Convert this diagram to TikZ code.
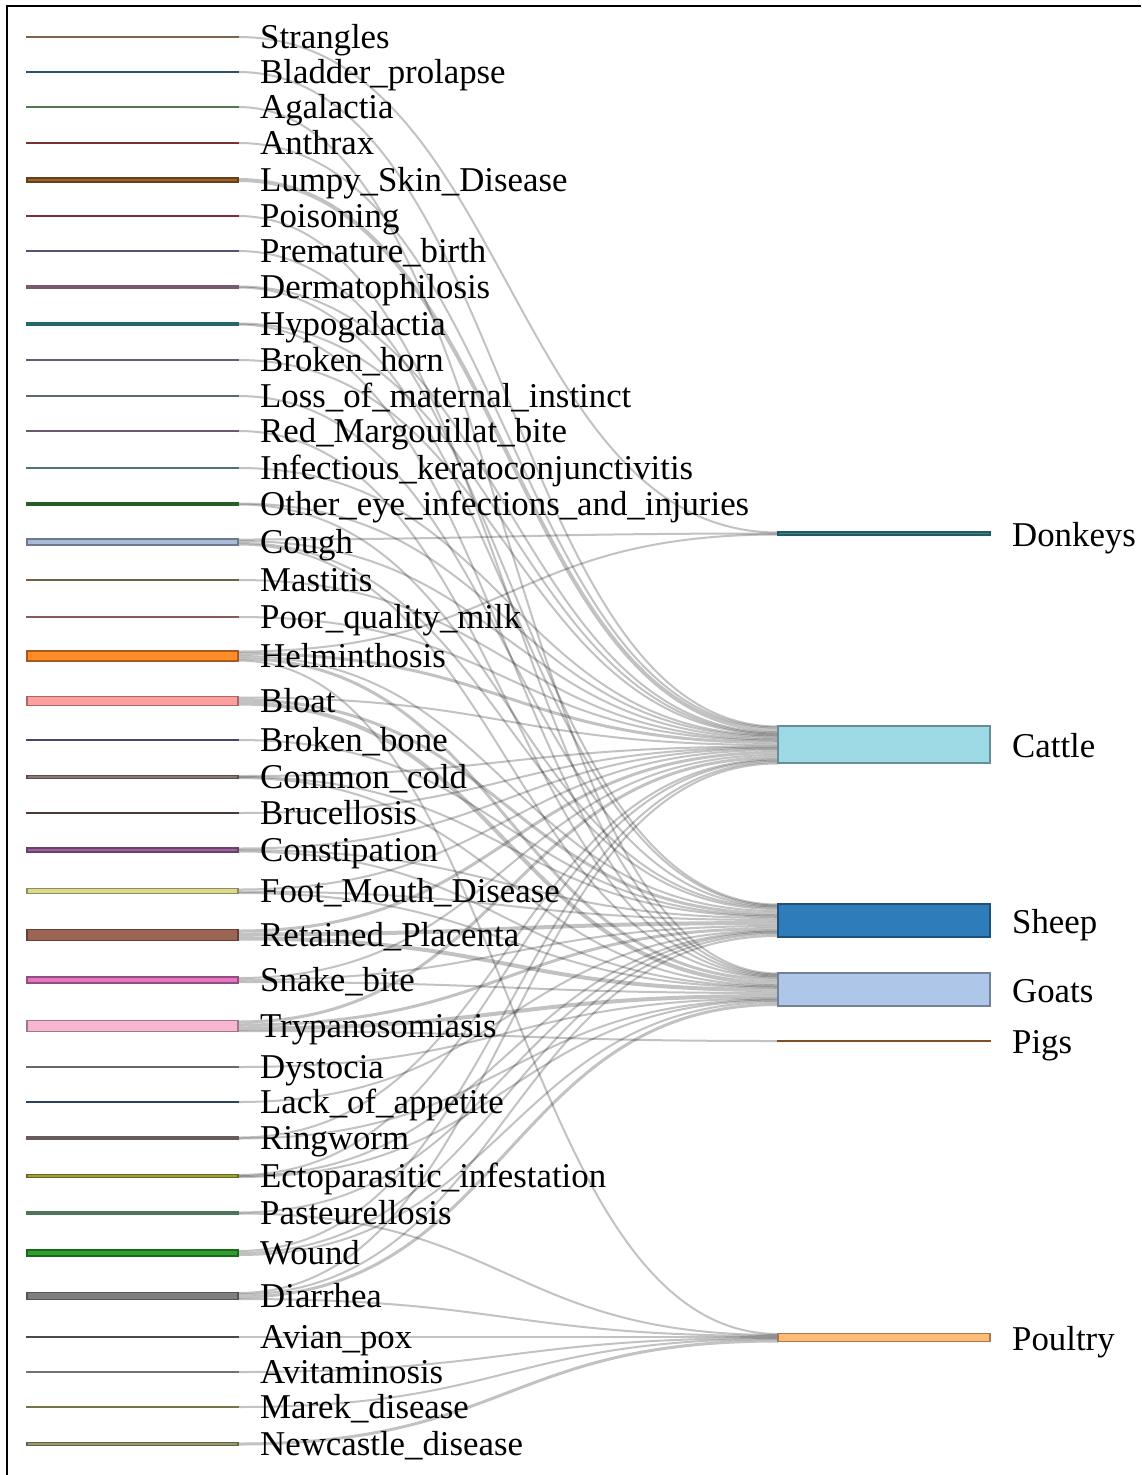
\documentclass[tikz,border=0pt]{standalone}
\usepackage{fontspec}
\setmainfont{Liberation Serif}
\usepackage{tikz}
\usepackage{xcolor}
\usetikzlibrary{positioning}

\pgfdeclarelayer{bg}
\pgfsetlayers{bg,main}

% node colours
\definecolor{cStra}{HTML}{BF9B70}
\definecolor{cBlad}{HTML}{3F7FA8}
\definecolor{cAgal}{HTML}{78B878}
\definecolor{cAnth}{HTML}{B84C4C}
\definecolor{cLump}{HTML}{9C6428}
\definecolor{cPois}{HTML}{B84A5A}
\definecolor{cPrem}{HTML}{8C78B4}
\definecolor{cDerm}{HTML}{B48CA8}
\definecolor{cHypo}{HTML}{35A0A0}
\definecolor{cHorn}{HTML}{A08CB4}
\definecolor{cLoss}{HTML}{8CA0B4}
\definecolor{cMarg}{HTML}{A08CA8}
\definecolor{cKera}{HTML}{78B4B4}
\definecolor{cEye}{HTML}{3C913C}
\definecolor{cCoug}{HTML}{A8BCD8}
\definecolor{cMast}{HTML}{B4946A}
\definecolor{cMilk}{HTML}{D08C8C}
\definecolor{cHelm}{HTML}{FF8C28}
\definecolor{cBloa}{HTML}{FF9E9E}
\definecolor{cBone}{HTML}{7862A0}
\definecolor{cCold}{HTML}{8C7872}
\definecolor{cBruc}{HTML}{785454}
\definecolor{cCons}{HTML}{A062A0}
\definecolor{cFmd}{HTML}{DBDB8D}
\definecolor{cPlac}{HTML}{9C6452}
\definecolor{cSnak}{HTML}{E377C2}
\definecolor{cTryp}{HTML}{F7B6D2}
\definecolor{cDyst}{HTML}{A0A0A0}
\definecolor{cAppe}{HTML}{3E6892}
\definecolor{cRing}{HTML}{A08C8C}
\definecolor{cEcto}{HTML}{A0A038}
\definecolor{cPast}{HTML}{78B48C}
\definecolor{cWoun}{HTML}{2CA02C}
\definecolor{cDiar}{HTML}{7F7F7F}
\definecolor{cPox}{HTML}{707070}
\definecolor{cVit}{HTML}{B0B0B0}
\definecolor{cMare}{HTML}{B4B46A}
\definecolor{cNewc}{HTML}{9A9A70}
\definecolor{cDonk}{HTML}{378A92}
\definecolor{cCatt}{HTML}{9EDAE5}
\definecolor{cShee}{HTML}{2E7DBA}
\definecolor{cGoat}{HTML}{AEC7E8}
\definecolor{cPigs}{HTML}{C87A36}
\definecolor{cPoul}{HTML}{FFBB78}

\tikzset{
  bar/.style={rectangle, inner sep=0pt, outer sep=0pt, line width=1.8pt,
    minimum width=211pt, fill=#1, draw=#1!65!black},
  herd/.style={bar=#1, minimum width=212pt},
  lbl/.style={anchor=base west, inner sep=0pt, font=\fontsize{34.8}{40}\selectfont},
  link/.style={draw=black, draw opacity=0.24},
}

% link from #1 (offset #2) to #3 (offset #4), value #5
\newcommand\flow[5]{%
  \pgfmathsetmacro\flowlw{max(#5,2)}%
  \draw[link, line width=\flowlw pt] ([yshift=-#2pt-#5pt/2]#1.north east)
    .. controls +(270,0) and +(-270,0) .. ([yshift=-#4pt-#5pt/2]#3.north west);}

\begin{document}
\begin{tikzpicture}[x=1pt,y=-1pt]
\begin{pgfonlayer}{bg}
\fill[white] (0,0) rectangle (1141,1475);
\end{pgfonlayer}
\useasboundingbox (0,0) rectangle (1141,1475);
\draw[line width=2pt] (7,1475) -- (7,6) -- (1141,6);

% diseases
\node[bar=cStra, minimum height=1pt] (strangles) at (132.5,37) {};
\node[lbl] (strangles-l) at ([xshift=22pt,yshift=-11.5pt]strangles.east) {Strangles};
\node[bar=cBlad, minimum height=1pt] (bladder) at (132.5,72) {};
\node[lbl] (bladder-l) at ([xshift=22pt,yshift=-11.5pt]bladder.east) {Bladder\_prolapse};
\node[bar=cAgal, minimum height=1pt] (agalactia) at (132.5,107) {};
\node[lbl] (agalactia-l) at ([xshift=22pt,yshift=-11.5pt]agalactia.east) {Agalactia};
\node[bar=cAnth, minimum height=1pt] (anthrax) at (132.5,143) {};
\node[lbl] (anthrax-l) at ([xshift=22pt,yshift=-11.5pt]anthrax.east) {Anthrax};
\node[bar=cLump, minimum height=4pt] (lumpy) at (132.5,180) {};
\node[lbl] (lumpy-l) at ([xshift=22pt,yshift=-11.5pt]lumpy.east) {Lumpy\_Skin\_Disease};
\node[bar=cPois, minimum height=1pt] (poisoning) at (132.5,216) {};
\node[lbl] (poisoning-l) at ([xshift=22pt,yshift=-11.5pt]poisoning.east) {Poisoning};
\node[bar=cPrem, minimum height=1pt] (premature) at (132.5,251) {};
\node[lbl] (premature-l) at ([xshift=22pt,yshift=-11.5pt]premature.east) {Premature\_birth};
\node[bar=cDerm, minimum height=2pt] (dermato) at (132.5,287) {};
\node[lbl] (dermato-l) at ([xshift=22pt,yshift=-11.5pt]dermato.east) {Dermatophilosis};
\node[bar=cHypo, minimum height=2pt] (hypo) at (132.5,324) {};
\node[lbl] (hypo-l) at ([xshift=22pt,yshift=-11.5pt]hypo.east) {Hypogalactia};
\node[bar=cHorn, minimum height=1pt] (brokenhorn) at (132.5,360) {};
\node[lbl] (brokenhorn-l) at ([xshift=22pt,yshift=-11.5pt]brokenhorn.east) {Broken\_horn};
\node[bar=cLoss, minimum height=1pt] (loss) at (132.5,396) {};
\node[lbl] (loss-l) at ([xshift=22pt,yshift=-11.5pt]loss.east) {Loss\_of\_maternal\_instinct};
\node[bar=cMarg, minimum height=1pt] (redmarg) at (132.5,431) {};
\node[lbl] (redmarg-l) at ([xshift=22pt,yshift=-11.5pt]redmarg.east) {Red\_Margouillat\_bite};
\node[bar=cKera, minimum height=1pt] (kerato) at (132.5,468) {};
\node[lbl] (kerato-l) at ([xshift=22pt,yshift=-11.5pt]kerato.east) {Infectious\_keratoconjunctivitis};
\node[bar=cEye, minimum height=2pt] (othereye) at (132.5,504) {};
\node[lbl] (othereye-l) at ([xshift=22pt,yshift=-11.5pt]othereye.east) {Other\_eye\_infections\_and\_injuries};
\node[bar=cCoug, minimum height=6pt] (cough) at (132.5,542) {};
\node[lbl] (cough-l) at ([xshift=22pt,yshift=-11.5pt]cough.east) {Cough};
\node[bar=cMast, minimum height=1pt] (mastitis) at (132.5,580) {};
\node[lbl] (mastitis-l) at ([xshift=22pt,yshift=-11.5pt]mastitis.east) {Mastitis};
\node[bar=cMilk, minimum height=1pt] (poormilk) at (132.5,617) {};
\node[lbl] (poormilk-l) at ([xshift=22pt,yshift=-11.5pt]poormilk.east) {Poor\_quality\_milk};
\node[bar=cHelm, minimum height=10pt] (helminth) at (132.5,656) {};
\node[lbl] (helminth-l) at ([xshift=22pt,yshift=-11.5pt]helminth.east) {Helminthosis};
\node[bar=cBloa, minimum height=9pt] (bloat) at (132.5,701) {};
\node[lbl] (bloat-l) at ([xshift=22pt,yshift=-11.5pt]bloat.east) {Bloat};
\node[bar=cBone, minimum height=1pt] (brokenbone) at (132.5,740) {};
\node[lbl] (brokenbone-l) at ([xshift=22pt,yshift=-11.5pt]brokenbone.east) {Broken\_bone};
\node[bar=cCold, minimum height=3pt] (cold) at (132.5,777) {};
\node[lbl] (cold-l) at ([xshift=22pt,yshift=-11.5pt]cold.east) {Common\_cold};
\node[bar=cBruc, minimum height=1pt] (brucella) at (132.5,813) {};
\node[lbl] (brucella-l) at ([xshift=22pt,yshift=-11.5pt]brucella.east) {Brucellosis};
\node[bar=cCons, minimum height=4pt] (constip) at (132.5,850) {};
\node[lbl] (constip-l) at ([xshift=22pt,yshift=-11.5pt]constip.east) {Constipation};
\node[bar=cFmd, minimum height=5pt] (fmd) at (132.5,891) {};
\node[lbl] (fmd-l) at ([xshift=22pt,yshift=-11.5pt]fmd.east) {Foot\_Mouth\_Disease};
\node[bar=cPlac, minimum height=11pt] (placenta) at (132.5,935) {};
\node[lbl] (placenta-l) at ([xshift=22pt,yshift=-11.5pt]placenta.east) {Retained\_Placenta};
\node[bar=cSnak, minimum height=6pt] (snake) at (132.5,980) {};
\node[lbl] (snake-l) at ([xshift=22pt,yshift=-11.5pt]snake.east) {Snake\_bite};
\node[bar=cTryp, minimum height=11pt] (trypano) at (132.5,1026) {};
\node[lbl] (trypano-l) at ([xshift=22pt,yshift=-11.5pt]trypano.east) {Trypanosomiasis};
\node[bar=cDyst, minimum height=1pt] (dystocia) at (132.5,1067) {};
\node[lbl] (dystocia-l) at ([xshift=22pt,yshift=-11.5pt]dystocia.east) {Dystocia};
\node[bar=cAppe, minimum height=1pt] (appetite) at (132.5,1102) {};
\node[lbl] (appetite-l) at ([xshift=22pt,yshift=-11.5pt]appetite.east) {Lack\_of\_appetite};
\node[bar=cRing, minimum height=2pt] (ringworm) at (132.5,1138) {};
\node[lbl] (ringworm-l) at ([xshift=22pt,yshift=-11.5pt]ringworm.east) {Ringworm};
\node[bar=cEcto, minimum height=3pt] (ecto) at (132.5,1176) {};
\node[lbl] (ecto-l) at ([xshift=22pt,yshift=-11.5pt]ecto.east) {Ectoparasitic\_infestation};
\node[bar=cPast, minimum height=2pt] (pasteur) at (132.5,1213) {};
\node[lbl] (pasteur-l) at ([xshift=22pt,yshift=-11.5pt]pasteur.east) {Pasteurellosis};
\node[bar=cWoun, minimum height=6pt] (wound) at (132.5,1253) {};
\node[lbl] (wound-l) at ([xshift=22pt,yshift=-11.5pt]wound.east) {Wound};
\node[bar=cDiar, minimum height=7pt] (diarrhea) at (132.5,1296) {};
\node[lbl] (diarrhea-l) at ([xshift=22pt,yshift=-11.5pt]diarrhea.east) {Diarrhea};
\node[bar=cPox, minimum height=1pt] (avianpox) at (132.5,1337) {};
\node[lbl] (avianpox-l) at ([xshift=22pt,yshift=-11.5pt]avianpox.east) {Avian\_pox};
\node[bar=cVit, minimum height=1pt] (avitamin) at (132.5,1372) {};
\node[lbl] (avitamin-l) at ([xshift=22pt,yshift=-11.5pt]avitamin.east) {Avitaminosis};
\node[bar=cMare, minimum height=1pt] (marek) at (132.5,1407) {};
\node[lbl] (marek-l) at ([xshift=22pt,yshift=-11.5pt]marek.east) {Marek\_disease};
\node[bar=cNewc, minimum height=3pt] (newcastle) at (132.5,1444) {};
\node[lbl] (newcastle-l) at ([xshift=22pt,yshift=-11.5pt]newcastle.east) {Newcastle\_disease};

% animals
\node[herd=cDonk, minimum height=3pt] (donkeys) at (884,533.5) {};
\node[lbl] (donkeys-l) at ([xshift=22pt,yshift=-12.5pt]donkeys.east) {Donkeys};
\node[herd=cCatt, minimum height=37pt] (cattle) at (884,744.5) {};
\node[lbl] (cattle-l) at ([xshift=22pt,yshift=-12.5pt]cattle.east) {Cattle};
\node[herd=cShee, minimum height=33pt] (sheep) at (884,920.5) {};
\node[lbl] (sheep-l) at ([xshift=22pt,yshift=-12.5pt]sheep.east) {Sheep};
\node[herd=cGoat, minimum height=33pt] (goats) at (884,989.5) {};
\node[lbl] (goats-l) at ([xshift=22pt,yshift=-12.5pt]goats.east) {Goats};
\node[herd=cPigs, minimum height=1pt] (pigs) at (884,1041) {};
\node[lbl] (pigs-l) at ([xshift=22pt,yshift=-12.5pt]pigs.east) {Pigs};
\node[herd=cPoul, minimum height=8pt] (poultry) at (884,1337.5) {};
\node[lbl] (poultry-l) at ([xshift=22pt,yshift=-12.5pt]poultry.east) {Poultry};

\begin{pgfonlayer}{bg}
\flow{strangles}{0}{donkeys}{0}{1}
\flow{cough}{0}{donkeys}{1}{1}
\flow{helminth}{0}{donkeys}{2}{1}
% cattle
\flow{bladder}{0}{cattle}{0}{1}
\flow{anthrax}{0}{cattle}{1}{1}
\flow{lumpy}{0}{cattle}{2}{4}
\flow{dermato}{0}{cattle}{6}{1}
\flow{hypo}{0}{cattle}{7}{1}
\flow{brokenhorn}{0}{cattle}{8}{1}
\flow{kerato}{0}{cattle}{9}{1}
\flow{othereye}{0}{cattle}{10}{1}
\flow{cough}{1}{cattle}{11}{2}
\flow{mastitis}{0}{cattle}{13}{1}
\flow{poormilk}{0}{cattle}{14}{1}
\flow{helminth}{1}{cattle}{15}{3}
\flow{bloat}{0}{cattle}{18}{2}
\flow{cold}{0}{cattle}{20}{1}
\flow{brucella}{0}{cattle}{21}{1}
\flow{constip}{0}{cattle}{22}{1}
\flow{fmd}{0}{cattle}{23}{2}
\flow{placenta}{0}{cattle}{25}{3}
\flow{snake}{0}{cattle}{28}{2}
\flow{trypano}{0}{cattle}{30}{3}
\flow{ringworm}{0}{cattle}{33}{1}
\flow{ecto}{0}{cattle}{34}{1}
\flow{wound}{0}{cattle}{35}{2}
\flow{diarrhea}{0}{cattle}{37}{1}
% sheep
\flow{premature}{0}{sheep}{0}{1}
\flow{dermato}{1}{sheep}{1}{1}
\flow{loss}{0}{sheep}{2}{1}
\flow{othereye}{1}{sheep}{3}{1}
\flow{cough}{3}{sheep}{4}{2}
\flow{helminth}{4}{sheep}{6}{2}
\flow{bloat}{2}{sheep}{8}{3}
\flow{brokenbone}{0}{sheep}{11}{1}
\flow{cold}{1}{sheep}{12}{1}
\flow{constip}{1}{sheep}{13}{2}
\flow{fmd}{2}{sheep}{15}{2}
\flow{placenta}{3}{sheep}{17}{4}
\flow{snake}{2}{sheep}{21}{2}
\flow{trypano}{3}{sheep}{23}{3}
\flow{appetite}{0}{sheep}{26}{1}
\flow{ecto}{1}{sheep}{27}{1}
\flow{pasteur}{0}{sheep}{28}{1}
\flow{wound}{2}{sheep}{29}{2}
\flow{diarrhea}{1}{sheep}{31}{2}
% goats
\flow{agalactia}{0}{goats}{0}{1}
\flow{poisoning}{0}{goats}{1}{1}
\flow{hypo}{1}{goats}{2}{1}
\flow{redmarg}{0}{goats}{3}{1}
\flow{cough}{5}{goats}{4}{1}
\flow{helminth}{6}{goats}{5}{3}
\flow{bloat}{5}{goats}{8}{4}
\flow{cold}{2}{goats}{12}{1}
\flow{constip}{3}{goats}{13}{1}
\flow{fmd}{4}{goats}{14}{1}
\flow{placenta}{7}{goats}{15}{4}
\flow{snake}{4}{goats}{19}{2}
\flow{trypano}{6}{goats}{21}{4}
\flow{dystocia}{0}{goats}{25}{1}
\flow{ringworm}{1}{goats}{26}{1}
\flow{ecto}{2}{goats}{27}{1}
\flow{wound}{4}{goats}{28}{2}
\flow{diarrhea}{3}{goats}{30}{3}
% pigs and poultry
\flow{trypano}{10}{pigs}{0}{1}
\flow{helminth}{9}{poultry}{0}{1}
\flow{pasteur}{1}{poultry}{1}{1}
\flow{diarrhea}{6}{poultry}{2}{1}
\flow{avianpox}{0}{poultry}{3}{1}
\flow{avitamin}{0}{poultry}{4}{1}
\flow{marek}{0}{poultry}{5}{1}
\flow{newcastle}{0}{poultry}{6}{3}
\end{pgfonlayer}
\end{tikzpicture}
\end{document}
